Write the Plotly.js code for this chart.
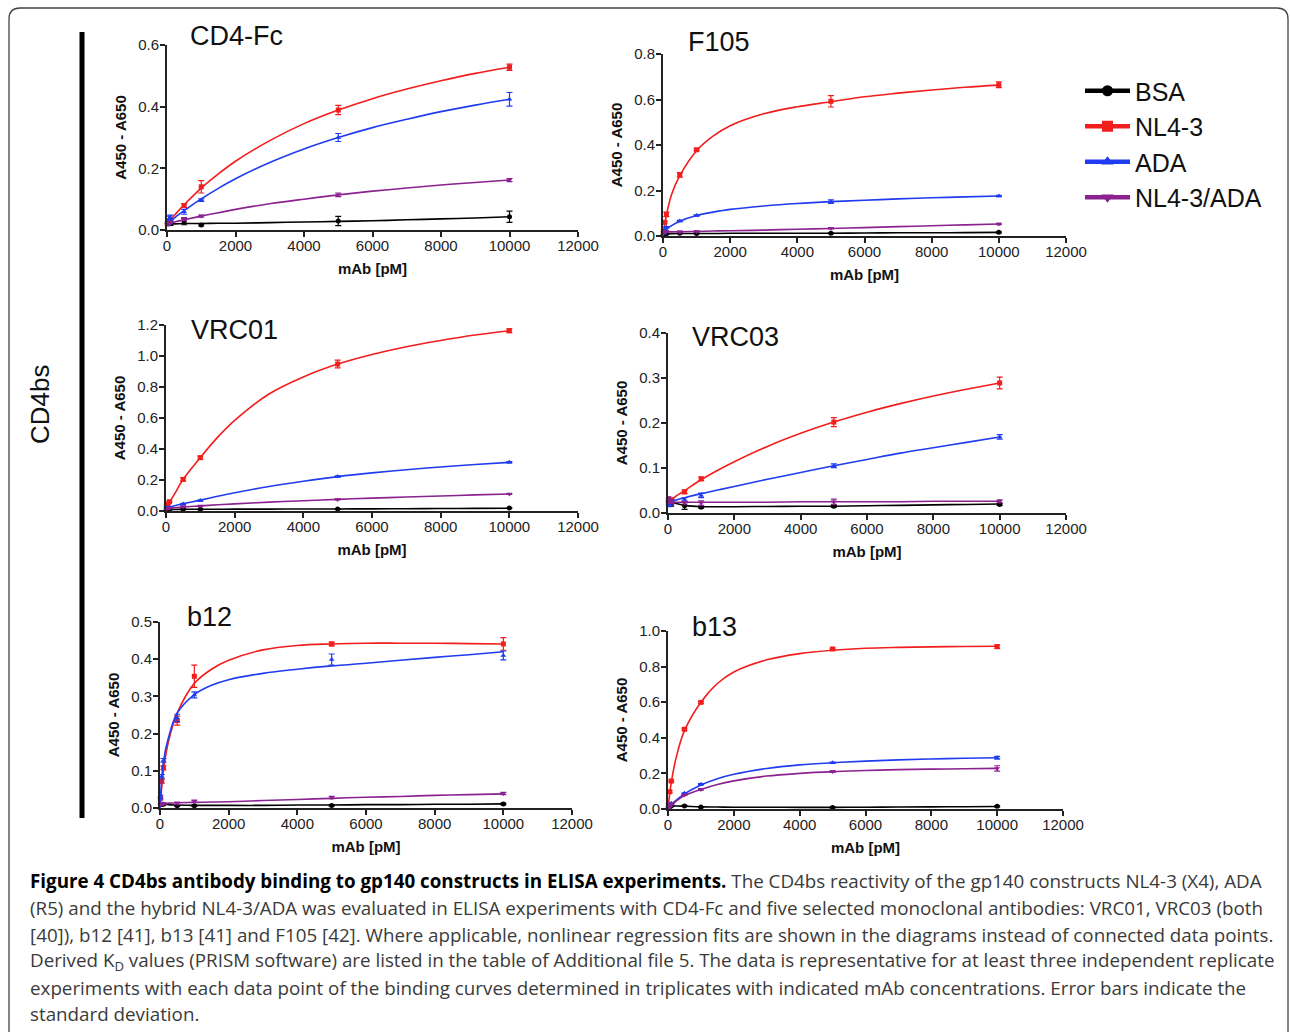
<!DOCTYPE html>
<html><head><meta charset="utf-8">
<script src="https://cdn.plot.ly/plotly-3.0.1.min.js"></script>
<style>html,body{margin:0;padding:0;background:#fff}#chart{width:1290px;height:1032px}</style>
</head><body><div id="chart"></div>
<script>
// ---------------- DATA ----------------
const seriesNames = ['BSA', 'NL4-3', 'ADA', 'NL4-3/ADA'];
const panelTitles = ['CD4-Fc', 'F105', 'VRC01', 'VRC03', 'b12', 'b13'];
const concentrations = [10, 50, 100, 500, 1000, 5000, 10000];   // mAb [pM]
const fitX = [0, 100, 250, 500, 1000, 1500, 2000, 3000, 4000, 5000, 6000, 7000, 8000, 9000, 10000];
const xTicks = [0, 2000, 4000, 6000, 8000, 10000, 12000];
const yMax = [0.6, 0.8, 1.2, 0.4, 0.5, 1.0];
const yStep = [0.2, 0.2, 0.2, 0.1, 0.1, 0.2];

// rows: BSA, NL4-3, ADA, NL4-3/ADA
const cd4fcMean = [
  [0.020, 0.020, 0.020, 0.027, 0.016, 0.029, 0.043],
  [0.020, 0.025, 0.030, 0.079, 0.140, 0.389, 0.528],
  [0.025, 0.035, 0.040, 0.059, 0.097, 0.300, 0.424],
  [0.020, 0.022, 0.025, 0.035, 0.045, 0.114, 0.162]];
const cd4fcSD = [
  [0.005, 0.005, 0.005, 0.010, 0.003, 0.015, 0.018],
  [0.005, 0.005, 0.005, 0.006, 0.020, 0.015, 0.010],
  [0.010, 0.010, 0.008, 0.008, 0.004, 0.013, 0.022],
  [0.003, 0.003, 0.003, 0.005, 0.003, 0.006, 0.005]];
const cd4fcFit = [
  [0.020, 0.020, 0.020, 0.021, 0.021, 0.022, 0.022, 0.024, 0.026, 0.028, 0.030, 0.033, 0.036, 0.039, 0.043],
  [0.020, 0.033, 0.052, 0.082, 0.136, 0.182, 0.223, 0.290, 0.345, 0.389, 0.426, 0.457, 0.484, 0.508, 0.528],
  [0.020, 0.029, 0.042, 0.063, 0.101, 0.135, 0.166, 0.219, 0.263, 0.300, 0.332, 0.359, 0.384, 0.405, 0.424],
  [0.020, 0.023, 0.027, 0.033, 0.045, 0.056, 0.067, 0.085, 0.100, 0.114, 0.126, 0.136, 0.146, 0.154, 0.162]];

const f105Mean = [
  [0.008, 0.010, 0.010, 0.012, 0.011, 0.012, 0.016],
  [0.020, 0.060, 0.095, 0.269, 0.379, 0.592, 0.665],
  [0.012, 0.025, 0.038, 0.066, 0.090, 0.151, 0.176],
  [0.015, 0.018, 0.020, 0.018, 0.020, 0.034, 0.053]];
const f105SD = [
  [0.002, 0.002, 0.002, 0.002, 0.002, 0.002, 0.002],
  [0.003, 0.005, 0.010, 0.010, 0.005, 0.025, 0.013],
  [0.003, 0.003, 0.003, 0.003, 0.003, 0.008, 0.003],
  [0.003, 0.003, 0.003, 0.003, 0.003, 0.003, 0.003]];
const f105Fit = [
  [0.008, 0.009, 0.010, 0.011, 0.011, 0.011, 0.012, 0.012, 0.012, 0.012, 0.013, 0.014, 0.014, 0.015, 0.016],
  [0.000, 0.090, 0.180, 0.265, 0.375, 0.440, 0.485, 0.537, 0.568, 0.590, 0.612, 0.628, 0.642, 0.654, 0.663],
  [0.010, 0.030, 0.045, 0.065, 0.090, 0.105, 0.117, 0.132, 0.143, 0.151, 0.157, 0.163, 0.168, 0.172, 0.176],
  [0.010, 0.017, 0.018, 0.019, 0.020, 0.022, 0.023, 0.026, 0.030, 0.033, 0.037, 0.041, 0.045, 0.049, 0.053]];

const vrc01Mean = [
  [0.010, 0.010, 0.010, 0.011, 0.011, 0.013, 0.019],
  [0.030, 0.045, 0.060, 0.204, 0.344, 0.948, 1.163],
  [0.020, 0.022, 0.025, 0.045, 0.067, 0.222, 0.314],
  [0.015, 0.017, 0.018, 0.028, 0.032, 0.075, 0.110]];
const vrc01SD = [
  [0.002, 0.002, 0.002, 0.002, 0.002, 0.002, 0.002],
  [0.005, 0.005, 0.005, 0.010, 0.010, 0.025, 0.012],
  [0.004, 0.004, 0.004, 0.004, 0.004, 0.004, 0.004],
  [0.003, 0.003, 0.003, 0.003, 0.003, 0.003, 0.003]];
const vrc01Fit = [
  [0.010, 0.010, 0.010, 0.011, 0.011, 0.011, 0.012, 0.012, 0.013, 0.013, 0.014, 0.015, 0.016, 0.017, 0.018],
  [0.020, 0.055, 0.110, 0.205, 0.345, 0.475, 0.585, 0.755, 0.865, 0.948, 1.010, 1.060, 1.100, 1.135, 1.163],
  [0.020, 0.025, 0.034, 0.047, 0.070, 0.095, 0.118, 0.158, 0.192, 0.222, 0.246, 0.266, 0.284, 0.300, 0.314],
  [0.015, 0.018, 0.021, 0.026, 0.033, 0.040, 0.046, 0.057, 0.066, 0.075, 0.083, 0.090, 0.097, 0.104, 0.110]];

const vrc03Mean = [
  [0.025, 0.022, 0.020, 0.016, 0.013, 0.015, 0.019],
  [0.024, 0.026, 0.028, 0.047, 0.076, 0.202, 0.289],
  [0.020, 0.022, 0.025, 0.030, 0.039, 0.105, 0.169],
  [0.030, 0.027, 0.025, 0.023, 0.022, 0.025, 0.026]];
const vrc03SD = [
  [0.010, 0.005, 0.005, 0.008, 0.002, 0.002, 0.002],
  [0.008, 0.005, 0.005, 0.004, 0.004, 0.010, 0.013],
  [0.006, 0.005, 0.005, 0.004, 0.005, 0.004, 0.005],
  [0.006, 0.004, 0.004, 0.003, 0.005, 0.006, 0.003]];
const vrc03Fit = [
  [0.027, 0.025, 0.021, 0.017, 0.014, 0.014, 0.014, 0.0145, 0.015, 0.015, 0.016, 0.017, 0.018, 0.019, 0.020],
  [0.025, 0.030, 0.038, 0.050, 0.074, 0.095, 0.114, 0.148, 0.177, 0.202, 0.224, 0.243, 0.260, 0.275, 0.289],
  [0.025, 0.027, 0.029, 0.034, 0.043, 0.051, 0.059, 0.075, 0.090, 0.105, 0.119, 0.133, 0.145, 0.157, 0.169],
  [0.027, 0.025, 0.024, 0.024, 0.024, 0.024, 0.024, 0.024, 0.025, 0.025, 0.025, 0.025, 0.026, 0.026, 0.026]];

const b12Mean = [
  [0.010, 0.010, 0.010, 0.006, 0.006, 0.007, 0.011],
  [0.027, 0.072, 0.108, 0.235, 0.354, 0.441, 0.441],
  [0.030, 0.085, 0.128, 0.242, 0.304, 0.399, 0.410],
  [0.010, 0.011, 0.012, 0.013, 0.018, 0.028, 0.039]];
const b12SD = [
  [0.002, 0.002, 0.002, 0.002, 0.002, 0.002, 0.002],
  [0.005, 0.005, 0.005, 0.012, 0.030, 0.005, 0.017],
  [0.005, 0.005, 0.005, 0.010, 0.008, 0.015, 0.012],
  [0.003, 0.002, 0.002, 0.003, 0.003, 0.003, 0.003]];
const b12Fit = [
  [0.012, 0.011, 0.009, 0.008, 0.007, 0.007, 0.007, 0.007, 0.008, 0.008, 0.009, 0.009, 0.010, 0.010, 0.011],
  [0.000, 0.100, 0.180, 0.255, 0.335, 0.373, 0.397, 0.425, 0.437, 0.441, 0.443, 0.443, 0.443, 0.442, 0.441],
  [0.000, 0.125, 0.190, 0.255, 0.305, 0.330, 0.345, 0.362, 0.373, 0.382, 0.389, 0.397, 0.405, 0.412, 0.420],
  [0.010, 0.012, 0.013, 0.014, 0.015, 0.016, 0.017, 0.020, 0.023, 0.026, 0.029, 0.031, 0.034, 0.036, 0.038]];

const b13Mean = [
  [0.008, 0.012, 0.017, 0.017, 0.011, 0.009, 0.015],
  [0.022, 0.097, 0.157, 0.448, 0.599, 0.899, 0.912],
  [0.010, 0.020, 0.032, 0.088, 0.139, 0.260, 0.288],
  [0.008, 0.018, 0.028, 0.079, 0.110, 0.210, 0.228]];
const b13SD = [
  [0.003, 0.003, 0.003, 0.003, 0.003, 0.003, 0.003],
  [0.005, 0.006, 0.006, 0.006, 0.006, 0.005, 0.010],
  [0.003, 0.003, 0.003, 0.003, 0.004, 0.004, 0.008],
  [0.003, 0.003, 0.003, 0.003, 0.004, 0.004, 0.015]];
const b13Fit = [
  [0.005, 0.016, 0.017, 0.016, 0.012, 0.011, 0.010, 0.010, 0.009, 0.009, 0.010, 0.011, 0.012, 0.013, 0.014],
  [0.000, 0.150, 0.290, 0.440, 0.600, 0.705, 0.770, 0.838, 0.873, 0.892, 0.903, 0.908, 0.911, 0.913, 0.914],
  [0.000, 0.025, 0.050, 0.085, 0.135, 0.170, 0.195, 0.228, 0.248, 0.260, 0.269, 0.276, 0.281, 0.285, 0.288],
  [0.000, 0.022, 0.045, 0.075, 0.110, 0.138, 0.158, 0.185, 0.200, 0.210, 0.216, 0.221, 0.224, 0.226, 0.228]];

const captionLines = [
  '<span style="color:#000"><b>Figure 4 CD4bs antibody binding to gp140 constructs in ELISA experiments.</b></span> The CD4bs reactivity of the gp140 constructs NL4-3 (X4), ADA',
  '(R5) and the hybrid NL4-3/ADA was evaluated in ELISA experiments with CD4-Fc and five selected monoclonal antibodies: VRC01, VRC03 (both',
  '[40]), b12 [41], b13 [41] and F105 [42]. Where applicable, nonlinear regression fits are shown in the diagrams instead of connected data points.',
  'Derived K<sub>D</sub> values (PRISM software) are listed in the table of Additional file 5. The data is representative for at least three independent replicate',
  'experiments with each data point of the binding curves determined in triplicates with indicated mAb concentrations. Error bars indicate the',
  'standard deviation.'
];
const sideLabel = 'CD4bs';
const xTitle = 'mAb [pM]';
const yTitle = 'A450 - A650';

// ---------------- STYLE / LAYOUT ----------------
const W = 1290, H = 1032;
const panelMeans = [cd4fcMean, f105Mean, vrc01Mean, vrc03Mean, b12Mean, b13Mean];
const panelSDs = [cd4fcSD, f105SD, vrc01SD, vrc03SD, b12SD, b13SD];
const panelFits = [cd4fcFit, f105Fit, vrc01Fit, vrc03Fit, b12Fit, b13Fit];
// pixel boxes: [left, right, top, bottom]
const panelBoxes = [[167, 578, 45, 230], [663, 1066, 54, 236], [166, 578, 325, 511],
                    [668, 1066, 333, 513], [160, 572, 622, 808], [668, 1063, 631, 809]];
const titlePos = [[188, 36], [686, 42], [189, 330], [690, 337], [185, 617], [690, 627]];
const colors = ['#000000', '#f21d1d', '#1f3cf0', '#8b2290'];
const symbols = ['circle', 'square', 'triangle-up', 'triangle-down'];
const FONT = 'Liberation Sans, Arial, Helvetica, sans-serif';
const px = v => v / W, py = v => 1 - v / H;

const traces = [];
const layout = {
  width: W, height: H, margin: {l: 0, r: 0, t: 0, b: 0},
  paper_bgcolor: '#fff', plot_bgcolor: 'rgba(0,0,0,0)',
  font: {family: FONT, color: '#222'},
  showlegend: true,
  legend: {x: px(1080), y: py(68), xanchor: 'left', yanchor: 'top',
           font: {family: FONT, size: 25, color: '#111'}, itemwidth: 45,
           bgcolor: 'rgba(0,0,0,0)', tracegroupgap: 0},
  annotations: [], shapes: []
};

panelTitles.forEach((title, p) => {
  const sfx = p === 0 ? '' : String(p + 1);
  const xa = 'x' + sfx, ya = 'y' + sfx;
  const [l, r, t, b] = panelBoxes[p];
  const axisCommon = {
    showline: true, linecolor: '#222', linewidth: 2, ticks: 'outside', ticklen: 5,
    tickwidth: 2, tickcolor: '#222', showgrid: false, zeroline: false,
    tickfont: {family: FONT, size: 15, color: '#222'}, fixedrange: true
  };
  layout['xaxis' + sfx] = Object.assign({}, axisCommon, {
    domain: [px(l), px(r)], range: [0, 12000], tickvals: xTicks, tickformat: 'd', anchor: ya,
    ticklabelstandoff: -4,
    title: {text: '<b>' + xTitle + '</b>', font: {family: FONT, size: 15, color: '#111'}, standoff: 10}
  });
  layout['yaxis' + sfx] = Object.assign({}, axisCommon, {
    domain: [py(b), py(t)], range: [0, yMax[p]], dtick: yStep[p], tick0: 0, tickformat: '.1f', anchor: xa,
    ticklabelstandoff: -2,
    title: {text: '<b>' + yTitle + '</b>', font: {family: FONT, size: 15, color: '#111'}, standoff: 8}
  });
  layout.annotations.push({
    xref: 'paper', yref: 'paper', x: px(titlePos[p][0]), y: py(titlePos[p][1]),
    xanchor: 'left', yanchor: 'middle', showarrow: false, text: title,
    font: {family: FONT, size: 27, color: '#111'}
  });
  seriesNames.forEach((name, s) => {
    traces.push({
      type: 'scatter', mode: 'lines', x: fitX, y: panelFits[p][s], xaxis: xa, yaxis: ya,
      line: {color: colors[s], width: 1.6, shape: 'spline', smoothing: 1},
      showlegend: false, hoverinfo: 'skip', cliponaxis: false, name: name
    });
    traces.push({
      type: 'scatter', mode: 'markers', x: concentrations, y: panelMeans[p][s], xaxis: xa, yaxis: ya,
      marker: {color: colors[s], symbol: symbols[s], size: 5},
      error_y: {type: 'data', array: panelSDs[p][s], visible: true, color: colors[s], thickness: 1.2, width: 3},
      showlegend: false, cliponaxis: false, name: name
    });
  });
});

// legend entries
seriesNames.forEach((name, s) => {
  traces.push({
    type: 'scatter', mode: 'lines+markers', x: [null], y: [null], xaxis: 'x', yaxis: 'y',
    name: name, line: {color: colors[s], width: 4.5},
    marker: {color: colors[s], symbol: symbols[s], size: 11}, showlegend: true
  });
});

// side label and bar
layout.annotations.push({
  xref: 'paper', yref: 'paper', x: px(40), y: py(405), xanchor: 'center', yanchor: 'middle',
  showarrow: false, text: sideLabel, textangle: -90, font: {family: FONT, size: 26, color: '#111'}
});
layout.shapes.push({
  type: 'line', xref: 'paper', yref: 'paper', x0: px(82), x1: px(82), y0: py(32), y1: py(818),
  line: {color: '#000', width: 5}
});
// figure frame (rounded top corners, continuing below the image)
const fp = (x, y) => px(x) + ',' + py(y);
layout.shapes.push({
  type: 'path', xref: 'paper', yref: 'paper',
  path: 'M' + fp(9, 1060) + ' L' + fp(9, 19) + ' Q' + fp(9, 8) + ' ' + fp(20, 8) +
        ' L' + fp(1277, 8) + ' Q' + fp(1288, 8) + ' ' + fp(1288, 19) + ' L' + fp(1288, 1060),
  line: {color: '#444', width: 1.3}
});

// caption
const capY = [881, 908, 935, 961, 988, 1014];
captionLines.forEach((txt, i) => {
  layout.annotations.push({
    xref: 'paper', yref: 'paper', x: px(28), y: py(capY[i]), xanchor: 'left', yanchor: 'middle',
    showarrow: false, text: txt, align: 'left',
    font: {family: 'Open Sans, Noto Sans, sans-serif', size: 18.8, color: '#3a3a3a'}
  });
});

Plotly.newPlot('chart', traces, layout, {displayModeBar: false, staticPlot: true});
</script>
</body></html>
